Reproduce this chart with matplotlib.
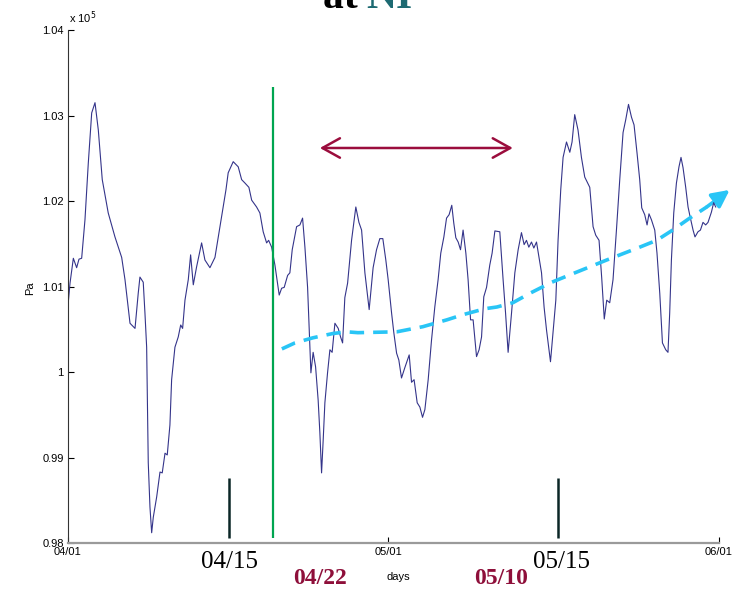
import numpy as np
import matplotlib
matplotlib.use('Agg')
import matplotlib.pyplot as plt
from matplotlib.patches import FancyArrowPatch

# pressure record, day counted from 04/01, value in Pa
days = [0.03, 0.19, 0.50, 0.81, 1.03, 1.28, 1.59, 1.90, 2.22, 2.53, 2.84, 3.21, 3.77,
        4.40, 5.03, 5.34, 5.81, 6.28, 6.58, 6.74, 7.05, 7.21, 7.37, 7.52, 7.68, 7.84,
        7.99, 8.31, 8.62, 8.83, 9.09, 9.30, 9.55, 9.71, 10.02, 10.33, 10.56, 10.74,
        10.96, 11.27, 11.49, 11.74, 12.05, 12.52, 12.83, 13.30, 13.77, 14.08, 14.49,
        14.80, 15.01, 15.48, 15.95, 16.27, 16.58, 16.95, 17.21, 17.67, 17.98, 18.29,
        18.61, 18.80, 19.08, 19.39, 19.79, 20.02, 20.26, 20.58, 20.79, 21.01, 21.42,
        21.73, 21.98, 22.20, 22.45, 22.60, 22.76, 22.97, 23.20, 23.44, 23.60, 23.76,
        23.91, 24.07, 24.32, 24.54, 24.75, 25.01, 25.32, 25.54, 25.73, 25.94, 26.20,
        26.57, 26.97, 27.26, 27.51, 27.82, 28.22, 28.59, 28.91, 29.22, 29.50, 29.78,
        30.00, 30.32, 30.53, 30.79, 31.00, 31.25, 31.56, 31.97, 32.19, 32.43, 32.72,
        32.97, 33.22, 33.44, 33.75, 34.06, 34.37, 34.68, 34.93, 35.22, 35.47, 35.71,
        35.96, 36.15, 36.34, 36.56, 36.78, 37.02, 37.28, 37.49, 37.72, 37.96, 38.28,
        38.52, 38.75, 38.96, 39.22, 39.52, 39.74, 40.00, 40.46, 40.77, 41.00, 41.24,
        41.56, 41.87, 42.18, 42.49, 42.74, 42.96, 43.18, 43.43, 43.65, 43.90, 44.14,
        44.37, 44.61, 44.84, 45.21, 45.45, 45.71, 45.92, 46.17, 46.39, 46.71, 47.02,
        47.23, 47.48, 47.79, 48.11, 48.42, 48.89, 49.20, 49.45, 49.76, 50.01, 50.25,
        50.48, 50.76, 51.07, 51.39, 51.70, 52.01, 52.26, 52.52, 52.80, 53.04, 53.32,
        53.57, 53.76, 54.04, 54.26, 54.44, 54.67, 54.98, 55.19, 55.45, 55.70, 56.01,
        56.22, 56.38, 56.54, 56.76, 57.01, 57.25, 57.44, 57.63, 57.88, 58.10, 58.32,
        58.57, 58.75, 59.03, 59.26, 59.50, 59.75, 59.97, 60.29, 60.50, 60.69]
pressure = [100820, 101040, 101330, 101220, 101320, 101330, 101780, 102440, 103030,
            103150, 102830, 102250, 101860, 101580, 101340, 101080, 100570, 100510,
            100920, 101110, 101050, 100690, 100290, 98940, 98420, 98120, 98300, 98540,
            98830, 98820, 99050, 99030, 99380, 99910, 100290, 100410, 100550, 100510,
            100840, 101080, 101370, 101020, 101230, 101510, 101310, 101220, 101340,
            101580, 101890, 102130, 102330, 102460, 102400, 102250, 102210, 102160,
            102010, 101930, 101860, 101640, 101510, 101540, 101460, 101250, 100900,
            100980, 100990, 101130, 101160, 101430, 101700, 101720, 101800, 101460,
            100990, 100490, 99990, 100230, 100060, 99670, 99290, 98820, 99200, 99640,
            99990, 100260, 100230, 100570, 100510, 100410, 100340, 100870, 101040,
            101540, 101930, 101750, 101660, 101160, 100730, 101220, 101430, 101560,
            101560, 101310, 101080, 100690, 100460, 100220, 100140, 99930, 100050,
            100200, 99880, 99910, 99640, 99590, 99470, 99560, 99910, 100370, 100760,
            101080, 101390, 101580, 101800, 101840, 101950, 101740, 101570, 101520,
            101430, 101660, 101390, 101080, 100610, 100610, 100180, 100260, 100410,
            100880, 100990, 101250, 101390, 101650, 101640, 101080, 100690, 100230,
            100690, 101160, 101430, 101630, 101490, 101540, 101460, 101520, 101450,
            101520, 101340, 101160, 100760, 100490, 100120, 100460, 100840, 101540,
            102130, 102510, 102690, 102570, 102690, 103010, 102830, 102510, 102280,
            102160, 101700, 101600, 101540, 101100, 100620, 100840, 100810, 101080,
            101660, 102250, 102800, 102950, 103130, 102980, 102890, 102560, 102250,
            101920, 101840, 101720, 101850, 101780, 101660, 101390, 100920, 100340,
            100260, 100230, 100690, 101310, 101860, 102210, 102400, 102510, 102390,
            102160, 101930, 101800, 101660, 101580, 101640, 101660, 101750, 101720,
            101750, 101870, 101980, 101930]

# hand drawn trend (dashed cyan)
trend_days = [20.04, 21.26, 22.95, 24.82, 26.13, 27.16, 30.81, 33.25, 35.50, 37.00,
              39.06, 40.18, 41.68, 43.27, 45.33, 47.30, 50.48, 53.57, 55.16, 56.66,
              58.26, 59.85]
trend_pa = [100270, 100340, 100400, 100450, 100470, 100460, 100470, 100530, 100610,
            100670, 100740, 100760, 100810, 100920, 101050, 101150, 101310, 101460,
            101540, 101660, 101800, 101930]
trend_tip = (62.0, 102130)

# markers
event_day = 19.2           # green line
mark_days = [15.08, 45.89]  # short dark bars
span_days = (23.6, 41.68)   # double arrow
span_pa = 102620

xtick_days = [0, 30, 61]
xtick_labels = ['04/01', '05/01', '06/01']
ytick_vals = [0.98, 0.99, 1.0, 1.01, 1.02, 1.03, 1.04]
ytick_labels = ['0.98', '0.99', '1', '1.01', '1.02', '1.03', '1.04']

sans = 'Liberation Sans'
serif = 'Liberation Serif'

fig = plt.figure(figsize=(7.48, 5.89), dpi=100)
ax = fig.add_axes([68/748, 1-543/589, 651/748, 513/589])

P = np.array(pressure) / 1e5
ax.plot(days, P, color='#34348a', lw=0.8)

T = np.array(trend_pa) / 1e5
ax.plot(trend_days, T, color='#29c5f6', lw=2.6, ls=(0, (4, 2.5)), clip_on=False)
ax.add_patch(FancyArrowPatch((trend_days[-1], T[-1]), (trend_tip[0], trend_tip[1]/1e5),
                             arrowstyle='-|>', mutation_scale=26, color='#29c5f6',
                             lw=2.6, clip_on=False, shrinkA=0, shrinkB=0))

ax.vlines(event_day, 0.9806, 1.0333, color='#00a550', lw=1.6)
ax.vlines(mark_days, 0.9806, 0.9876, color='#0b2626', lw=1.8)

ax.add_patch(FancyArrowPatch((span_days[0], span_pa/1e5), (span_days[1], span_pa/1e5),
                             arrowstyle='<->,head_length=0.9,head_width=0.5',
                             mutation_scale=14, color='#9b0d3d', lw=1.8,
                             shrinkA=0, shrinkB=0))

ax.set_xlim(0, 61)
ax.set_ylim(0.98, 1.04)
ax.set_xticks(xtick_days)
ax.set_xticklabels(xtick_labels, fontfamily=sans, fontsize=8)
ax.set_yticks(ytick_vals)
ax.set_yticklabels(ytick_labels, fontfamily=sans, fontsize=8)
ax.tick_params(direction='in', length=4, width=0.8, pad=3)
for s in ['top', 'right']:
    ax.spines[s].set_visible(False)
ax.spines['bottom'].set_color('#9a9a9a')
ax.spines['bottom'].set_linewidth(1.6)
ax.spines['left'].set_color('#333333')
ax.spines['left'].set_linewidth(0.8)

fig.text(30/748, 1-288/589, 'Pa', rotation=90, ha='center', va='center',
         fontfamily=sans, fontsize=8)
fig.text(398/748, 1-577/589, 'days', ha='center', va='center', fontfamily=sans, fontsize=8)
fig.text(69/748, 1-18/589, r'x 10$^{5}$', ha='left', va='center', fontfamily=sans,
         fontsize=8)

fig.text(230/748, 1-562/589, '04/15', ha='center', va='center', fontfamily=serif,
         fontsize=18)
fig.text(561/748, 1-562/589, '05/15', ha='center', va='center', fontfamily=serif,
         fontsize=18)
fig.text(320/748, 1-578/589, '04/22', ha='center', va='center', fontfamily=serif,
         fontsize=17, fontweight='bold', color='#8e0f3a')
fig.text(501/748, 1-578/589, '05/10', ha='center', va='center', fontfamily=serif,
         fontsize=17, fontweight='bold', color='#8e0f3a')

# title cut by the top edge, as in the original slide
fig.text(323/748, 1-8/589, 'at ', ha='left', va='baseline', fontfamily=serif,
         fontsize=30, fontweight='bold', color='black')
fig.text(366/748, 1-8/589, 'NI', ha='left', va='baseline', fontfamily=serif,
         fontsize=30, fontweight='bold', color='#1d6a72')

fig.savefig('out.png', dpi=100)
